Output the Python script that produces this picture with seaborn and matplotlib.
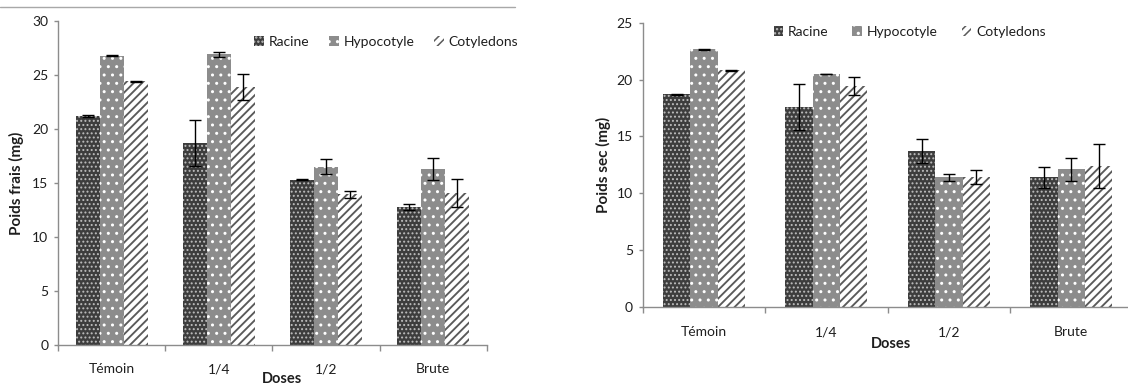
import matplotlib
matplotlib.use("Agg")
import matplotlib.pyplot as plt
import numpy as np
import pandas as pd
import seaborn as sns
from matplotlib.lines import Line2D
from matplotlib.ticker import FixedLocator, MultipleLocator

# ---- data -------------------------------------------------------------
categories = ["Témoin", "1/4", "1/2", "Brute"]
parts = ["Racine", "Hypocotyle", "Cotyledons"]

frais_racine = [21.2, 18.7, 15.3, 12.8]
frais_hypocotyle = [26.8, 26.9, 16.5, 16.3]
frais_cotyledons = [24.4, 23.9, 13.95, 14.1]
frais_err_racine = [0.05, 2.1, 0.05, 0.3]
frais_err_hypocotyle = [0.05, 0.27, 0.7, 1.0]
frais_err_cotyledons = [0.05, 1.2, 0.3, 1.3]

sec_racine = [18.7, 17.6, 13.7, 11.4]
sec_hypocotyle = [22.65, 20.5, 11.4, 12.1]
sec_cotyledons = [20.8, 19.4, 11.45, 12.4]
sec_err_racine = [0.03, 2.0, 1.05, 0.95]
sec_err_hypocotyle = [0.03, 0.03, 0.3, 1.0]
sec_err_cotyledons = [0.03, 0.8, 0.6, 1.9]

# ---- style ------------------------------------------------------------
sns.set_theme(style="white")
plt.rcParams["font.family"] = ["Lato", "DejaVu Sans"]
plt.rcParams["hatch.linewidth"] = 1.1

bar_styles = {
    "Racine": dict(face="#3d3d3d", hatch="....", hatch_color="#bdbdbd", hlw=0.9),
    "Hypocotyle": dict(face="#8c8c8c", hatch="..", hatch_color="#ffffff", hlw=1.0),
    "Cotyledons": dict(face="#ffffff", hatch="////", hatch_color="#5a5a5a", hlw=1.35),
}
AXIS_GREY = "#8c8c8c"
TEXT = "#1e1e1e"


def long_table(values, errors):
    rows = []
    for part, vals, errs in zip(parts, values, errors):
        for cat, v, e in zip(categories, vals, errs):
            rows.append({"Doses": cat, "Partie": part, "valeur": v, "erreur": e})
    return pd.DataFrame(rows)


def draw_panel(ax, df, errors, ylabel, ymax, ylabel_x, xlabel_y, xlabel_x,
               legend_anchor, colspace, tick_pad):
    sns.barplot(data=df, x="Doses", y="valeur", hue="Partie", order=categories,
                hue_order=parts, width=0.67, gap=0, errorbar=None, legend=False,
                ax=ax)
    handles = []
    for part, cont, errs in zip(parts, ax.containers, errors):
        st = bar_styles[part]
        for p, e in zip(cont.patches, errs):
            p.set_facecolor(st["face"])
            p.set_edgecolor(st["hatch_color"])
            p.set_linewidth(0)
            p.set_hatch(st["hatch"])
            if hasattr(p, "set_hatch_linewidth"):
                p.set_hatch_linewidth(st["hlw"])
            x = p.get_x() + p.get_width() / 2
            ax.errorbar(x, p.get_height(), yerr=e, color="black", lw=1.0,
                        capsize=4, capthick=1.0, zorder=5)
        handles.append(cont.patches[0])

    ax.set_xlim(-0.5, 3.5)
    ax.set_ylim(0, ymax)
    ax.yaxis.set_major_locator(MultipleLocator(5))
    ax.xaxis.set_minor_locator(FixedLocator([-0.5, 0.5, 1.5, 2.5, 3.5]))

    for s in ("top", "right"):
        ax.spines[s].set_visible(False)
    for s in ("left", "bottom"):
        ax.spines[s].set_color(AXIS_GREY)
        ax.spines[s].set_linewidth(1.0)

    ax.tick_params(axis="y", which="major", left=True, length=3, width=1,
                   color=AXIS_GREY, pad=4, labelsize=10, labelcolor=TEXT)
    ax.tick_params(axis="x", which="major", bottom=True, length=0,
                   pad=tick_pad, labelsize=10, labelcolor=TEXT)
    ax.tick_params(axis="x", which="minor", bottom=True, length=4, width=1,
                   color=AXIS_GREY)

    ax.set_ylabel(ylabel, fontsize=11, fontweight="bold", color=TEXT)
    ax.yaxis.set_label_coords(ylabel_x, 0.5)
    ax.set_xlabel("Doses", fontsize=10.5, fontweight="bold", color=TEXT)
    ax.xaxis.set_label_coords(xlabel_x, xlabel_y)

    ax.legend(handles, parts, loc="center", bbox_to_anchor=legend_anchor,
              ncol=3, frameon=False, fontsize=10, handlelength=0.7,
              handleheight=0.7, handletextpad=0.35, columnspacing=colspace,
              labelcolor=TEXT)


fig = plt.figure(figsize=(11.28, 3.85), dpi=100)
ax_frais = fig.add_axes([0.0514, 0.1039, 0.3803, 0.8416])
ax_sec = fig.add_axes([0.5697, 0.2026, 0.4344, 0.7384])

frais = long_table([frais_racine, frais_hypocotyle, frais_cotyledons],
                   [frais_err_racine, frais_err_hypocotyle, frais_err_cotyledons])
sec = long_table([sec_racine, sec_hypocotyle, sec_cotyledons],
                 [sec_err_racine, sec_err_hypocotyle, sec_err_cotyledons])

draw_panel(ax_frais, frais,
           [frais_err_racine, frais_err_hypocotyle, frais_err_cotyledons],
           "Poids frais (mg)", 30, -0.079, -0.083, 0.522, (0.765, 0.935), 1.4, 13)
draw_panel(ax_sec, sec,
           [sec_err_racine, sec_err_hypocotyle, sec_err_cotyledons],
           "Poids sec (mg)", 25, -0.065, -0.106, 0.507, (0.545, 0.967), 1.7, 14)

# thin rule across the top of the left panel
fig.add_artist(Line2D([0, 0.457], [0.982, 0.982], color="#a8a8a8", lw=1.0,
                      transform=fig.transFigure))

fig.savefig("out.png", dpi=100)
